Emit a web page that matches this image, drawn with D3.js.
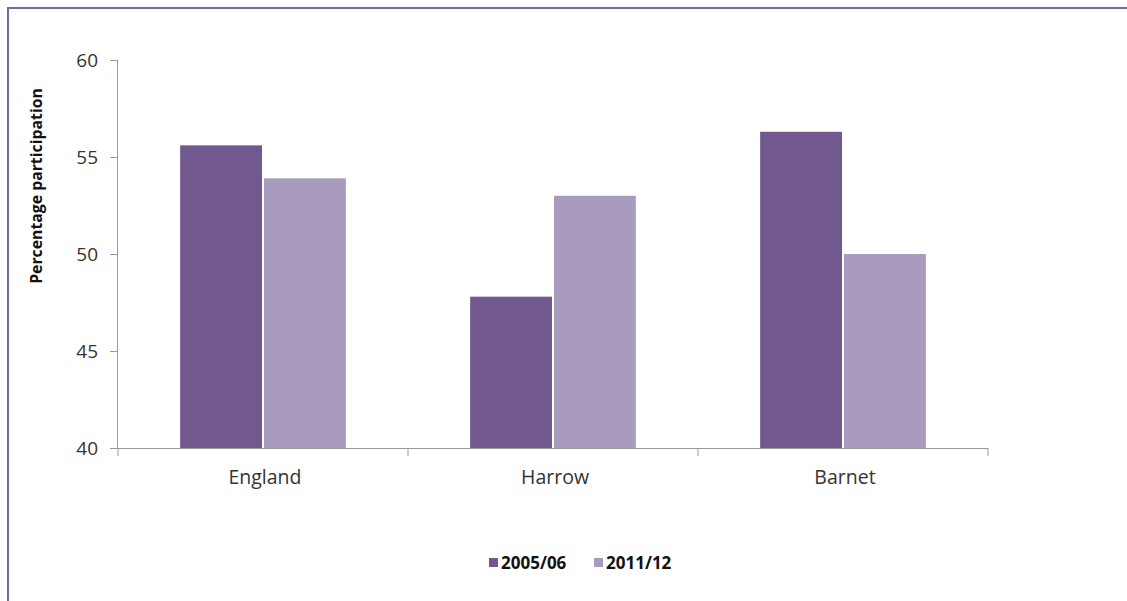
<!DOCTYPE html>
<html><head><meta charset="utf-8">
<script src="https://cdn.jsdelivr.net/npm/d3@7"></script>
<style>body{margin:0;background:#fff}svg{display:block}</style>
</head><body>
<script>
const categories = ["England", "Harrow", "Barnet"];
const seriesNames = ["2005/06", "2011/12"];
const values2005 = [55.6, 47.8, 56.3];
const values2011 = [53.9, 53.0, 50.0];
const yTicks = [40, 45, 50, 55, 60];
const colors = ["#71588F", "#A99BBD"];

(function () {
const W = 1127, H = 601;
const svg = d3.select("body").append("svg").attr("width", W).attr("height", H);
svg.append("rect").attr("width", W).attr("height", H).attr("fill", "#fff");
svg.append("rect").attr("x", 8).attr("y", 8).attr("width", 1125).attr("height", 600)
  .attr("fill", "none").attr("stroke", "#8064A2").attr("stroke-width", 2);

const mLeft = 118, mRight = 988, mTop = 60, mBottom = 448;
const x = d3.scaleBand().domain(categories).range([mLeft, mRight]).paddingInner(0).paddingOuter(0);
const x1 = d3.scaleBand().domain(seriesNames).range([0, x.bandwidth()]).paddingInner(0.0).paddingOuter(0.75);
const y = d3.scaleLinear().domain([40, 60]).range([mBottom, mTop]);

const font = "Open Sans, Liberation Sans, sans-serif";

const yAxis = svg.append("g").attr("transform", `translate(${mLeft},0)`)
  .call(d3.axisLeft(y).tickValues(yTicks).tickSize(8).tickPadding(12).tickFormat(d3.format("d")));
yAxis.select(".domain").attr("stroke", "#999").attr("d", `M-0.5,${mTop}V${mBottom}`);
yAxis.selectAll(".tick line").attr("stroke", "#999");
yAxis.selectAll("text").attr("font-family", font).attr("font-size", 19).attr("fill", "#333");

const data = categories.map((c, i) => ({c, vals: [values2005[i], values2011[i]]}));
const g = svg.append("g");
data.forEach(d => {
  d.vals.forEach((v, j) => {
    g.append("rect")
      .attr("x", x(d.c) + x1(seriesNames[j]) + (j === 1 ? 1 : 0))
      .attr("y", y(v))
      .attr("width", x1.bandwidth() - 1)
      .attr("height", y(40) - y(v))
      .attr("fill", colors[j]);
  });
});

const xAxis = svg.append("g").attr("transform", `translate(0,${mBottom})`);
xAxis.append("line").attr("x1", mLeft).attr("x2", mRight).attr("y1", 0.5).attr("y2", 0.5).attr("stroke", "#999");
const bounds = [mLeft].concat(categories.map(c => x(c) + x.bandwidth()));
xAxis.selectAll(".xt").data(bounds).join("line")
  .attr("x1", d => d).attr("x2", d => d).attr("y1", 0).attr("y2", 8).attr("stroke", "#999");
xAxis.selectAll(".xl").data(categories).join("text")
  .attr("x", d => x(d) + x.bandwidth() / 2 + 2).attr("y", 36)
  .attr("text-anchor", "middle").attr("font-family", font).attr("font-size", 19.5).attr("fill", "#333")
  .text(d => d);

svg.append("text").attr("transform", "translate(42,186) rotate(-90)")
  .attr("text-anchor", "middle").attr("font-family", font).attr("font-size", 15.8)
  .attr("font-weight", "bold").attr("fill", "#111").text("Percentage participation");

const legX = [489, 594];
seriesNames.forEach((s, i) => {
  svg.append("rect").attr("x", legX[i]).attr("y", 558).attr("width", 9).attr("height", 9).attr("fill", colors[i]);
  svg.append("text").attr("x", legX[i] + 12).attr("y", 569).attr("font-family", font)
    .attr("font-size", 17).attr("font-weight", "bold").attr("fill", "#111").text(s);
});
})();
</script>
</body></html>
